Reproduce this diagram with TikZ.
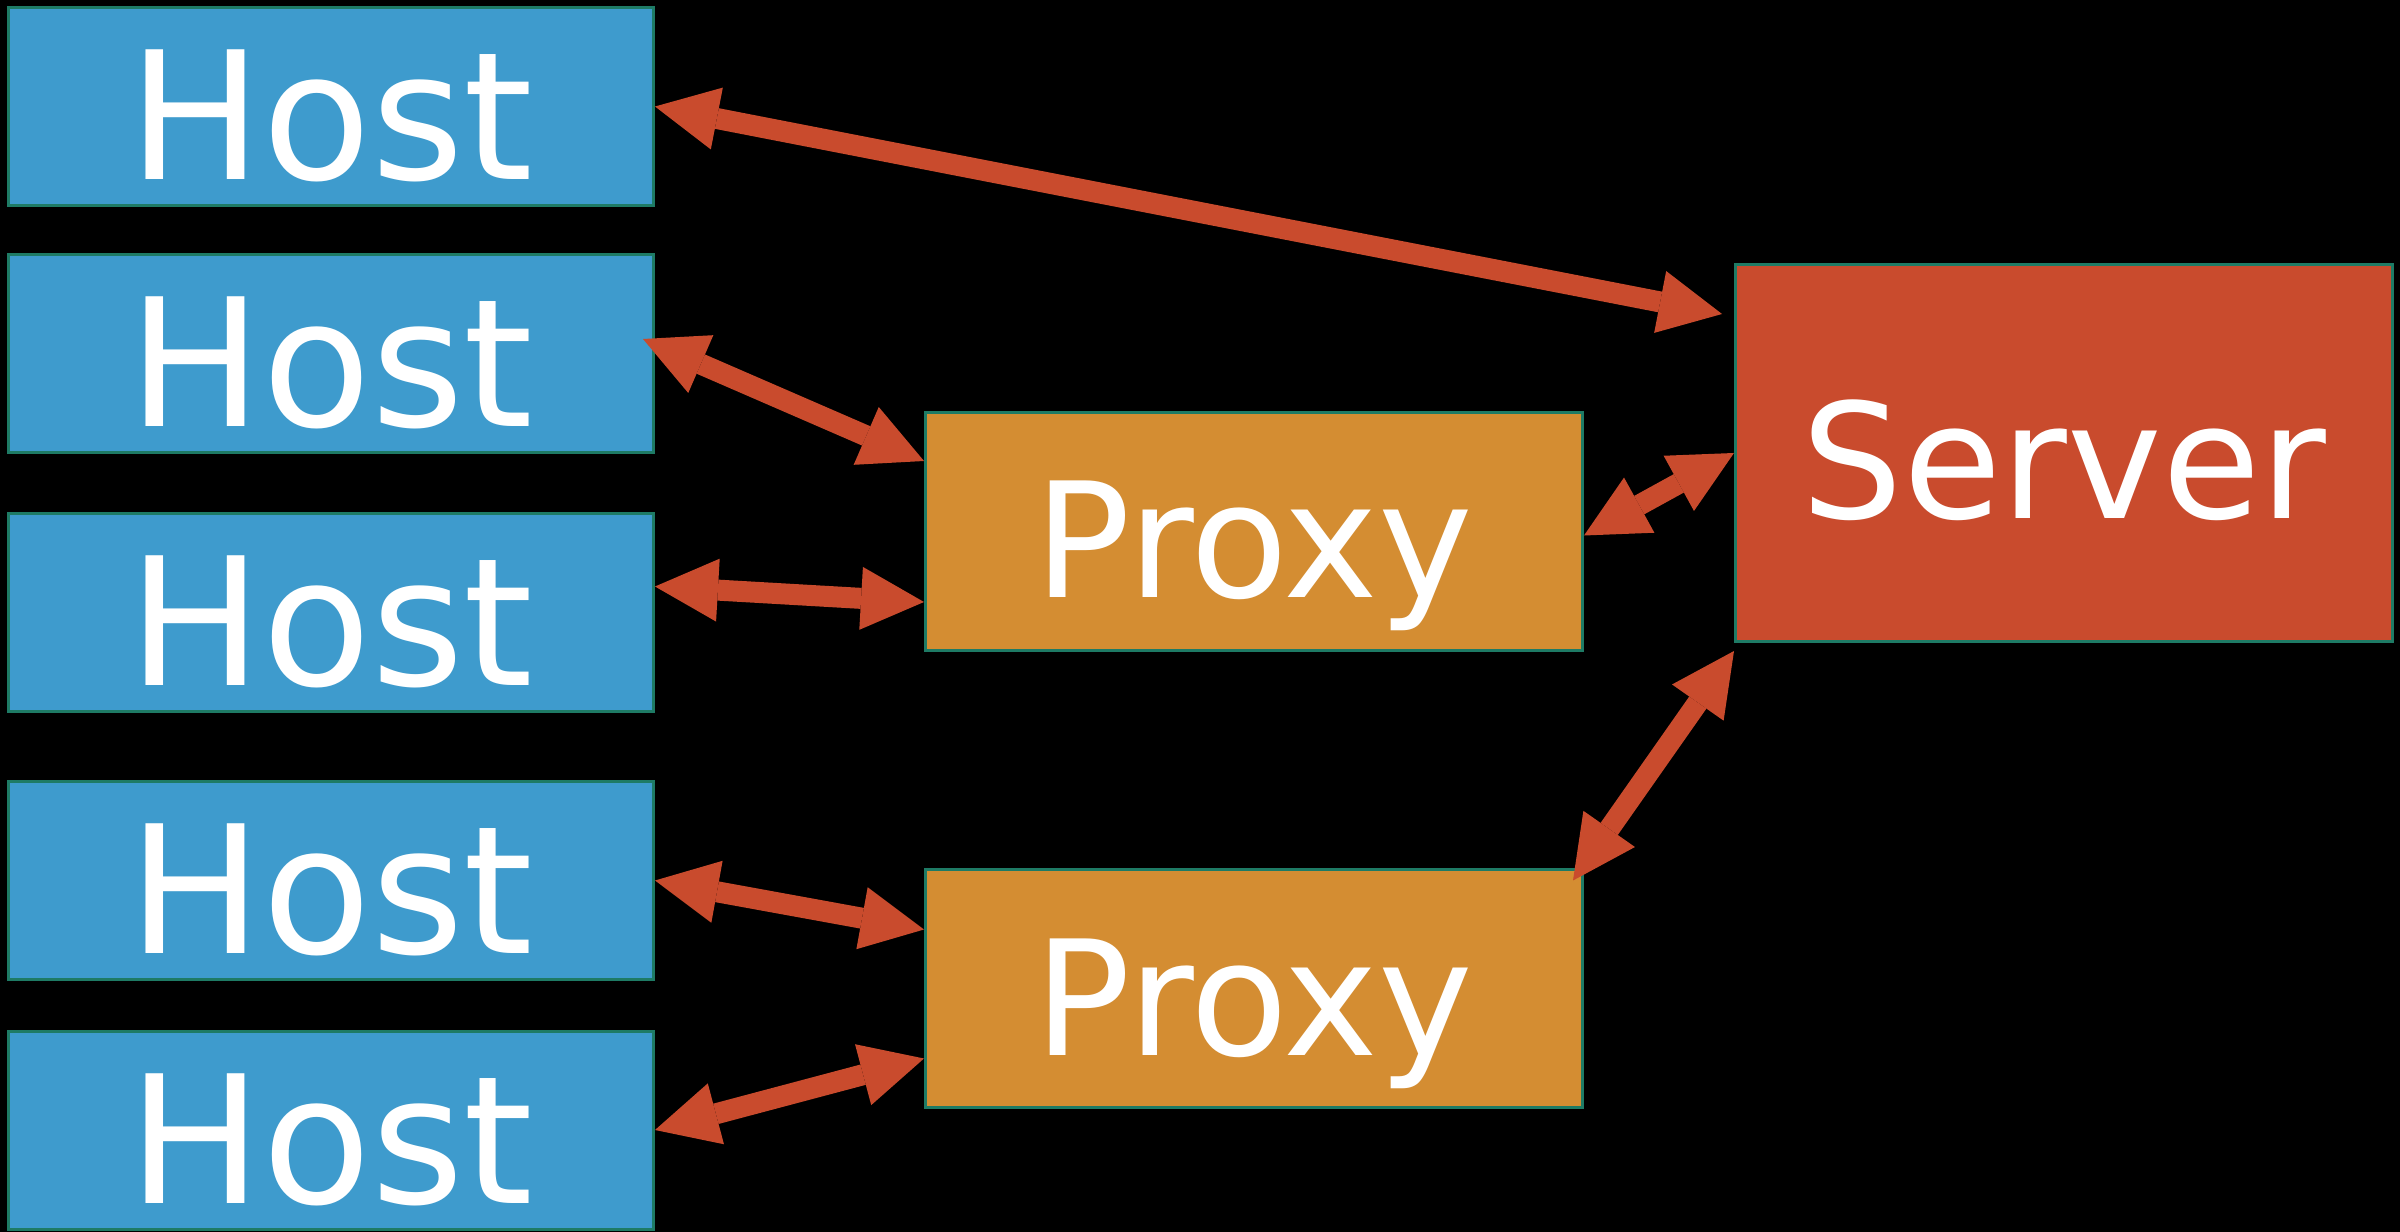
\documentclass[tikz,border=0pt]{standalone}
\usepackage{fontspec}
\setmainfont{DejaVu Sans}
\usetikzlibrary{arrows.meta}
\definecolor{hostc}{HTML}{3E9BCD}
\definecolor{proxyc}{HTML}{D48D32}
\definecolor{serverc}{HTML}{C94B2D}
\definecolor{edgec}{HTML}{1E7B65}
\definecolor{arrowc}{HTML}{C94B2D}
\begin{document}
\begin{tikzpicture}[x=0.3pt,y=-0.3pt,
  box/.style={draw=edgec,line width=0.9pt,inner sep=0pt,text=white,text depth=0pt},
  hostbox/.style={box,fill=hostc,minimum width=193.5pt,minimum height=59.4pt,
    font=\fontsize{53.4}{60}\selectfont,text height=43.8pt},
  proxybox/.style={box,fill=proxyc,minimum width=197.1pt,minimum height=71.4pt,
    font=\fontsize{48}{56}\selectfont,text height=39.6pt},
  serverbox/.style={box,fill=serverc,minimum width=197.1pt,minimum height=113.1pt,
    font=\fontsize{48}{56}\selectfont,text height=39.6pt},
  tipshape/.style={},
  link/.style={draw=arrowc,line width=6.3pt,
    {Triangle[length=18.9pt,width=18.9pt,line width=0pt]}-{Triangle[length=18.9pt,width=18.9pt,line width=0pt]}}]
\fill[black] (0,0) rectangle (2400,1232);
\useasboundingbox (0,0) rectangle (2400,1232);

\node[hostbox] (h1) at (331,106.5) {Host};
\node[hostbox] (h2) at (331,353.5) {Host};
\node[hostbox] (h3) at (331,612.5) {Host};
\node[hostbox] (h4) at (331,880.5) {Host};
\node[hostbox] (h5) at (331,1130) {Host};
\node[proxybox] (p1) at (1254,531.5) {Proxy};
\node[proxybox] (p2) at (1254,989) {Proxy};
\node[serverbox] (srv) at (2064,453) {Server};

\draw[link] (h1.east) -- ([shift={(-12,51)}]srv.north west);
\draw[link] ([shift={(-12,86)}]h2.north east) -- ([shift={(0,50)}]p1.north west);
\draw[link] ([shift={(0,-26)}]h3.east) -- ([shift={(0,191)}]p1.north west);
\draw[link] (h4.east) -- ([shift={(0,61)}]p2.north west);
\draw[link] (h5.east) -- ([shift={(0,190)}]p2.north west);
\draw[link] ([shift={(0,4)}]p1.east) -- (srv.west);
\draw[link] ([shift={(-11,12)}]p2.north east) -- ([shift={(0,8)}]srv.south west);
\end{tikzpicture}
\end{document}
